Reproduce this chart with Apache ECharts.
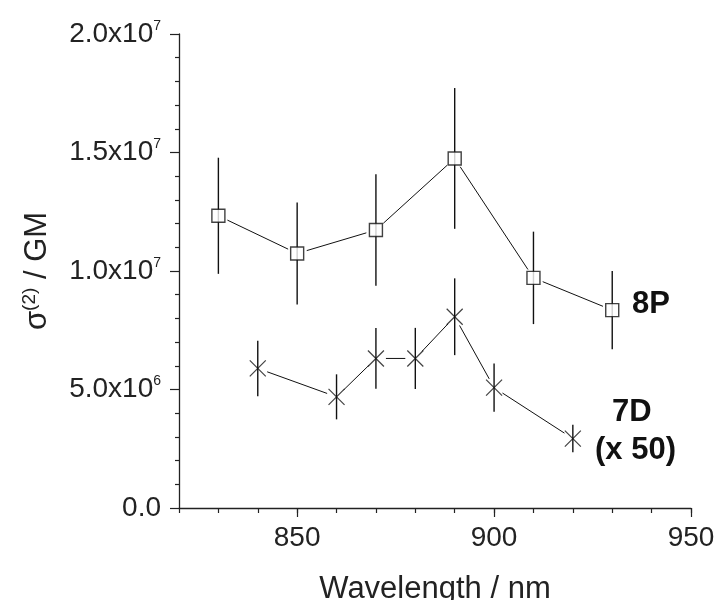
<!DOCTYPE html>
<html>
<head>
<meta charset="utf-8">
<script src="https://cdn.jsdelivr.net/npm/echarts@6/dist/echarts.min.js"></script>
<style>
html,body{margin:0;padding:0;background:#fff;}
#chart{width:717px;height:600px;}
</style>
</head>
<body>
<div id="chart"></div>
<script>
// ---- data ----
const wl8P  = [830, 850, 870, 890, 910, 930];
const val8P = [12.33e6, 10.74e6, 11.73e6, 14.75e6, 9.71e6, 8.35e6];
const err8P = [2.45e6, 2.15e6, 2.35e6, 2.97e6, 1.95e6, 1.65e6];

const wl7D  = [840, 860, 870, 880, 890, 900, 920];
const val7D = [5.89e6, 4.69e6, 6.31e6, 6.31e6, 8.07e6, 5.08e6, 2.93e6];
const err7D = [1.17e6, 0.95e6, 1.28e6, 1.29e6, 1.62e6, 1.02e6, 0.58e6];

const xTickLabels = [850, 900, 950];
const yTickMant = ['0.0', '5.0', '1.0', '1.5', '2.0'];
const yTickExp  = ['', '6', '7', '7', '7'];

const label8P = '8P';
const label7D = ['7D', '(x 50)'];

// ---- build ----
function pts(x, y) { return x.map((v, i) => [v, y[i]]); }
function errs(x, y, e) { return x.map((v, i) => [v, y[i] - e[i], y[i] + e[i]]); }
function segs(x, y) {
  const out = [];
  for (let i = 1; i < x.length; i++) out.push([x[i - 1], y[i - 1], x[i], y[i]]);
  return out;
}

const FONT = '"Liberation Sans", Arial, sans-serif';

function errRender(params, api) {
  const x = api.value(0);
  const lo = api.coord([x, api.value(1)]);
  const hi = api.coord([x, api.value(2)]);
  return {
    type: 'line',
    shape: { x1: lo[0], y1: lo[1], x2: hi[0], y2: hi[1] },
    style: { stroke: '#111', lineWidth: 1.4 }
  };
}
function segRender(gap) {
  return function (params, api) {
    const p0 = api.coord([api.value(0), api.value(1)]);
    const p1 = api.coord([api.value(2), api.value(3)]);
    const dx = p1[0] - p0[0], dy = p1[1] - p0[1];
    const L = Math.sqrt(dx * dx + dy * dy);
    if (L <= 2 * gap) return null;
    const ux = dx / L, uy = dy / L;
    return {
      type: 'line',
      shape: { x1: p0[0] + ux * gap, y1: p0[1] + uy * gap, x2: p1[0] - ux * gap, y2: p1[1] - uy * gap },
      style: { stroke: '#111', lineWidth: 1 }
    };
  };
}

const chart = echarts.init(document.getElementById('chart'), null, { renderer: 'canvas' });

const option = {
  backgroundColor: '#fff',
  animation: false,
  grid: { left: 179, right: 26, top: 34, bottom: 92, containLabel: false, outerBoundsMode: 'none' },
  xAxis: [{
    type: 'value', min: 820, max: 950, interval: 10,
    name: 'Wavelength / nm', nameLocation: 'middle', nameGap: 66,
    nameTextStyle: { fontFamily: FONT, fontSize: 31, color: '#222' },
    axisLine: { show: true, onZero: false, lineStyle: { color: '#222', width: 1.3 } },
    axisTick: { show: true, inside: false, length: 5, lineStyle: { color: '#222', width: 1.2 } },
    axisLabel: {
      show: true, customValues: xTickLabels, margin: 16,
      fontFamily: FONT, fontSize: 28, color: '#222'
    },
    splitLine: { show: false }
  }, {
    type: 'value', min: 820, max: 950, position: 'bottom',
    axisLine: { show: false },
    axisTick: { show: true, customValues: xTickLabels, length: 9, lineStyle: { color: '#222', width: 1.2 } },
    axisLabel: { show: false },
    splitLine: { show: false }
  }],
  yAxis: {
    type: 'value', min: 0, max: 2e7, interval: 5e6,
    name: '{a|σ}{s|(2)}{a| / GM}', nameLocation: 'middle', nameGap: 125, nameRotate: 90,
    nameTextStyle: {
      rich: {
        a: { fontFamily: FONT, fontSize: 31, color: '#222', lineHeight: 34 },
        s: { fontFamily: FONT, fontSize: 19, color: '#222', lineHeight: 18, verticalAlign: 'top' }
      }
    },
    axisLine: { show: true, lineStyle: { color: '#222', width: 1.3 } },
    axisTick: { show: true, inside: false, length: 9, lineStyle: { color: '#222', width: 1.2 } },
    minorTick: { show: true, splitNumber: 5, length: 4, lineStyle: { color: '#222', width: 1.2 } },
    axisLabel: {
      margin: 18,
      formatter: function (v, i) {
        const e = yTickExp[i];
        return e ? '{a|' + yTickMant[i] + 'x10}{s|' + e + '}' : '{a|' + yTickMant[i] + '}';
      },
      rich: {
        a: { fontFamily: FONT, fontSize: 28, color: '#222', lineHeight: 30 },
        s: { fontFamily: FONT, fontSize: 14, color: '#222', lineHeight: 14, verticalAlign: 'top' }
      }
    },
    splitLine: { show: false },
    minorSplitLine: { show: false }
  },
  series: [
    { type: 'custom', name: '8P-line', renderItem: segRender(10), data: segs(wl8P, val8P), z: 1, silent: true },
    { type: 'custom', name: '8P-err', renderItem: errRender, data: errs(wl8P, val8P, err8P), z: 2, silent: true },
    {
      type: 'scatter', name: '8P', data: pts(wl8P, val8P), symbol: 'rect', symbolSize: 13,
      itemStyle: { color: '#fff', borderColor: '#111', borderWidth: 1.4 }, z: 3,
      label: { show: false }
    },
    { type: 'custom', name: '7D-line', renderItem: segRender(10), data: segs(wl7D, val7D), z: 1, silent: true },
    { type: 'custom', name: '7D-err', renderItem: errRender, data: errs(wl7D, val7D, err7D), z: 2, silent: true },
    {
      type: 'scatter', name: '7D', data: pts(wl7D, val7D),
      symbol: 'path://M0,0L10,10M10,0L0,10', symbolSize: 16,
      itemStyle: { color: 'none', borderColor: '#111', borderWidth: 1.2 }, z: 3
    }
  ],
  graphic: [
    { type: 'text', left: 632, top: 289, style: { text: label8P, fontFamily: FONT, fontWeight: 'bold', fontSize: 31, fill: '#111' } },
    { type: 'text', left: 612, top: 397, style: { text: label7D[0], fontFamily: FONT, fontWeight: 'bold', fontSize: 31, fill: '#111' } },
    { type: 'text', left: 595, top: 435, style: { text: label7D[1], fontFamily: FONT, fontWeight: 'bold', fontSize: 31, fill: '#111' } }
  ]
};
chart.setOption(option);
</script>
</body>
</html>
